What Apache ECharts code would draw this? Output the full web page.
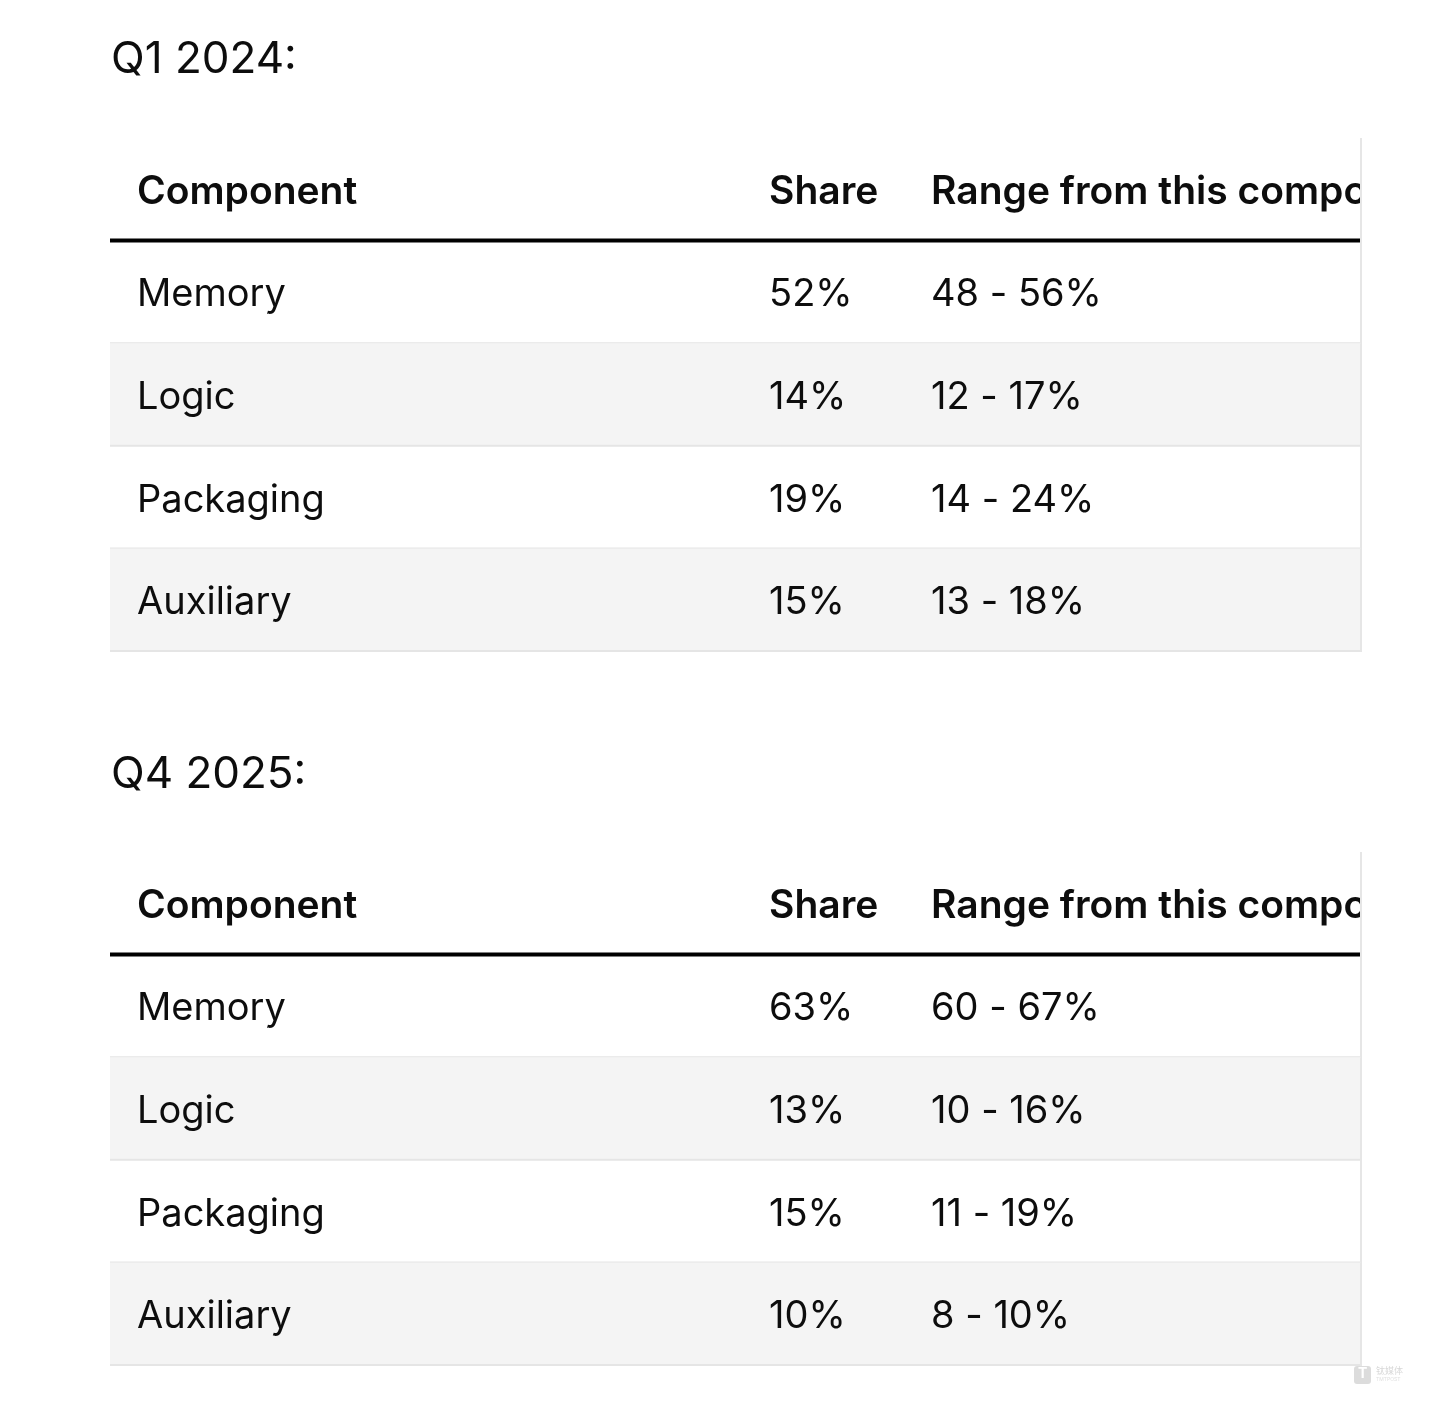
<!DOCTYPE html>
<html>
<head>
<meta charset="utf-8">
<style>
html,body{margin:0;padding:0;background:#fff;}
#main{width:1440px;height:1412px;}
</style>
<script src="https://cdn.jsdelivr.net/npm/echarts@6/dist/echarts.min.js"></script>
</head>
<body>
<div id="main"></div>
<script>
// ---- data ----
const tableTitles = ['Q1 2024:', 'Q4 2025:'];
const headers = ['Component', 'Share', 'Range from this component'];
const components = ['Memory', 'Logic', 'Packaging', 'Auxiliary'];
const q1Share = [52, 14, 19, 15];
const q1Low = [48, 12, 14, 13];
const q1High = [56, 17, 24, 18];
const q4Share = [63, 13, 15, 10];
const q4Low = [60, 10, 11, 8];
const q4High = [67, 16, 19, 10];

// ---- build rows ----
function buildRows(share, low, high) {
  const rows = [headers.slice()];
  components.forEach((c, i) => {
    rows.push([c, share[i] + '%', low[i] + ' - ' + high[i] + '%']);
  });
  return rows;
}
const tables = [buildRows(q1Share, q1Low, q1High), buildRows(q4Share, q4Low, q4High)];

const FONT = 'Inter, "Liberation Sans", sans-serif';
const colPos = [2.16, 52.68, 65.63]; // percent of table width

function makeRenderer(rows) {
  return function (params, api) {
    const idx = api.value(1);
    const c = api.coord([0, idx]);
    const h = api.size([0, 1])[1];
    const xL = c[0];
    const xR = api.coord([100, idx])[0];
    const yT = c[1] - h / 2;
    const yC = c[1];
    const isHeader = idx === 0;
    const children = [];
    if (!isHeader && idx % 2 === 0) {
      children.push({ type: 'rect', shape: { x: xL, y: yT, width: xR - xL, height: h }, style: { fill: '#f4f4f4' } });
    }
    const texts = rows[idx].map((t, j) => ({
      type: 'text',
      x: xL + (xR - xL) * colPos[j] / 100,
      y: yC + 3,
      style: {
        text: t,
        fill: '#0d0d0d',
        font: (isHeader ? '600 39px ' : '400 38px ') + FONT,
        textAlign: 'left',
        textVerticalAlign: 'middle'
      }
    }));
    children.push({
      type: 'group',
      children: texts,
      clipPath: { type: 'rect', shape: { x: xL, y: yT, width: xR - xL, height: h } }
    });
    if (isHeader) {
      children.push({ type: 'line', shape: { x1: xL, y1: yT + h, x2: xR, y2: yT + h }, style: { stroke: '#000', lineWidth: 4 } });
    } else {
      children.push({ type: 'line', shape: { x1: xL, y1: yT + h, x2: xR, y2: yT + h }, style: { stroke: '#e5e5e5', lineWidth: 2 } });
    }
    children.push({ type: 'line', shape: { x1: xR, y1: yT, x2: xR, y2: yT + h + 1 }, style: { stroke: '#e6e6e6', lineWidth: 2 } });
    return { type: 'group', children: children };
  };
}

const grids = [
  { left: 110, top: 138, width: 1251, height: 513 },
  { left: 110, top: 852, width: 1251, height: 513 }
];

const option = {
  backgroundColor: '#ffffff',
  animation: false,
  title: tableTitles.map((t, i) => ({
    text: t,
    left: 106,
    top: i === 0 ? 33 : 748,
    textStyle: { fontFamily: FONT, fontWeight: 400, fontSize: 44, color: '#0d0d0d' }
  })),
  grid: grids,
  xAxis: grids.map((g, i) => ({ type: 'value', gridIndex: i, min: 0, max: 100, show: false })),
  yAxis: grids.map((g, i) => ({
    type: 'category', gridIndex: i, inverse: true, show: false,
    data: tables[i].map(r => r[0])
  })),
  series: tables.map((rows, i) => ({
    type: 'custom',
    xAxisIndex: i,
    yAxisIndex: i,
    clip: false,
    renderItem: makeRenderer(rows),
    data: rows.map((r, k) => [50, k])
  })),
  graphic: [
    { type: 'rect', left: 1354, top: 1366, shape: { width: 17, height: 18, r: 3 }, style: { fill: '#dcdcdc' } },
    { type: 'text', left: 1358, top: 1367, style: { text: 'T', fill: '#fff', font: 'bold 14px ' + FONT } },
    { type: 'text', left: 1376, top: 1366, style: { text: '钛媒体', fill: '#d8d8d8', font: '9px "Noto Sans CJK SC"' } },
    { type: 'text', left: 1376, top: 1377, style: { text: 'TMTPOST', fill: '#e0e0e0', font: '5px ' + FONT } }
  ]
};

const chart = echarts.init(document.getElementById('main'));
chart.setOption(option);
</script>
</body>
</html>
